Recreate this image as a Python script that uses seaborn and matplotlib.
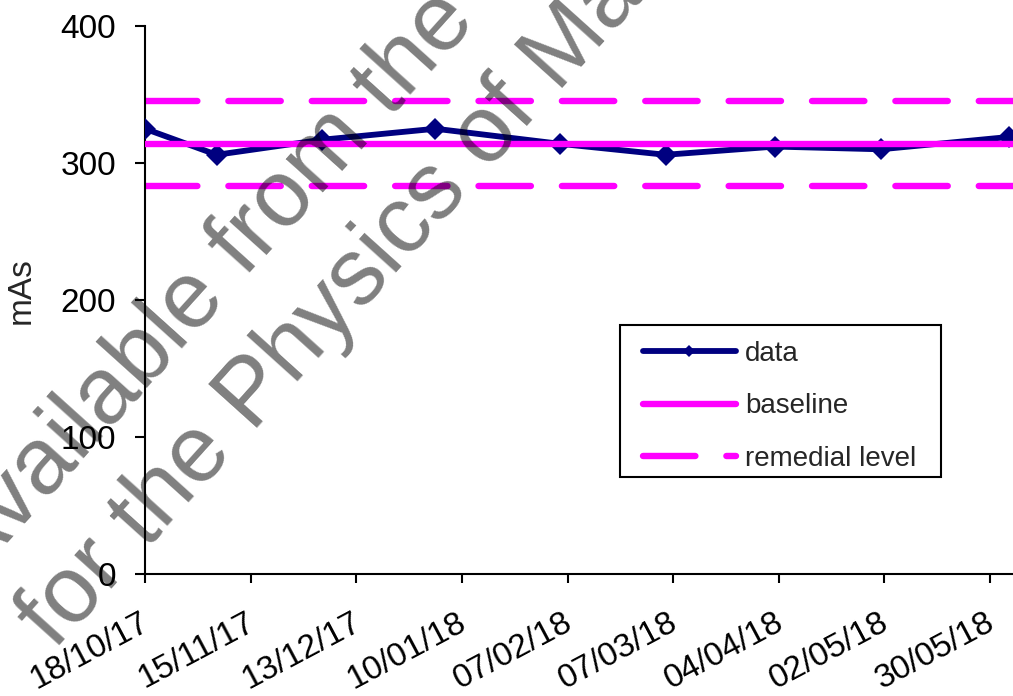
import matplotlib
matplotlib.use("Agg")
import matplotlib.pyplot as plt
import matplotlib.dates as mdates
import matplotlib.transforms as mtransforms
from matplotlib.patches import Rectangle
import pandas as pd
import seaborn as sns

# Measurement dates and exposure readings
dates = ["2017-10-18", "2017-11-06", "2017-12-04", "2018-01-03", "2018-02-05",
         "2018-03-05", "2018-04-03", "2018-05-01", "2018-06-04"]
mas_values = [325, 306, 317, 325, 314, 306, 312, 310, 319]

baseline = 314
remedial_levels = [345, 283]

tick_start = "2017-10-18"
tick_step_days = 28
n_ticks = 9
axis_end = "2018-06-05 02:00"

y_ticks = [0, 100, 200, 300, 400]

watermark_lines = ["Available from the", "for the Physics of Ma"]

sns.set_style("ticks")
plt.rcParams["font.family"] = ["Liberation Sans", "DejaVu Sans"]

df = pd.DataFrame({"date": pd.to_datetime(dates), "mAs": mas_values})

W, H = 1013, 696
fig = plt.figure(figsize=(W / 100, H / 100), dpi=100)
ax = fig.add_axes([145 / W, 1 - 574 / H, 1 - 145 / W, (574 - 26) / H])

navy = "#000080"
magenta = "#FF00FF"

sns.lineplot(data=df, x="date", y="mAs", ax=ax, color=navy, lw=4.2,
             marker="D", markersize=11, markeredgewidth=0, label="data",
             zorder=3)
ax.axhline(baseline, color=magenta, lw=4.6, solid_capstyle="round",
           label="baseline", zorder=4)
for i, lvl in enumerate(remedial_levels):
    ax.axhline(lvl, color=magenta, lw=4.6, dashes=(8.2, 4.85),
               dash_capstyle="round",
               label="remedial level" if i == 0 else None, zorder=2)

x0 = pd.Timestamp(tick_start)
ticks = [x0 + pd.Timedelta(days=tick_step_days * k) for k in range(n_ticks)]
ax.set_xlim(x0, pd.Timestamp(axis_end))
ax.set_xticks(ticks)
ax.xaxis.set_major_formatter(mdates.DateFormatter("%d/%m/%y"))
ax.set_ylim(0, 400)
ax.set_yticks(y_ticks)

ax.set_xlabel("")
ax.set_ylabel("mAs", fontsize=24)
ax.yaxis.set_label_coords(-0.125, 0.518)

for s in ["top", "right"]:
    ax.spines[s].set_visible(False)
for s in ["left", "bottom"]:
    ax.spines[s].set_linewidth(1.5)
    ax.spines[s].set_color("black")

ax.tick_params(axis="y", direction="out", length=7, width=1.5, labelsize=24,
               pad=14, colors="black")
ax.tick_params(axis="x", direction="out", length=6.5, width=1.5, labelsize=24,
               pad=17, colors="black")
shift = mtransforms.ScaledTranslation(-5 / 100, 0, fig.dpi_scale_trans)
for lab in ax.get_xticklabels():
    lab.set_rotation(28)
    lab.set_ha("right")
    lab.set_rotation_mode("anchor")
    lab.set_va("top")
    lab.set_transform(lab.get_transform() + shift)

# Legend box drawn as a plain rectangle, entries placed inside it
ax.add_patch(Rectangle((0.547, 0.177), 0.37, 0.277, transform=ax.transAxes,
                       facecolor="white", edgecolor="black", lw=1.5,
                       zorder=4.5))
leg = ax.legend(loc="upper left", bbox_to_anchor=(0.5737, 0.425),
                fontsize=20, frameon=False, handlelength=3.35,
                handletextpad=0.33, labelspacing=0.95, borderpad=0,
                borderaxespad=0)
leg.set_zorder(5)
leg.legend_handles[0].set_markersize(6)

# Diagonal watermark laid over the chart
wm_kw = dict(fontsize=68, color="black", alpha=0.5, rotation=48,
             rotation_mode="anchor", ha="left", va="baseline", zorder=10)
fig.text(-28 / W, 1 - 582 / H, watermark_lines[0], **wm_kw)
fig.text(55 / W, 1 - 652 / H, watermark_lines[1], **wm_kw)

fig.savefig("out.png", dpi=100)
